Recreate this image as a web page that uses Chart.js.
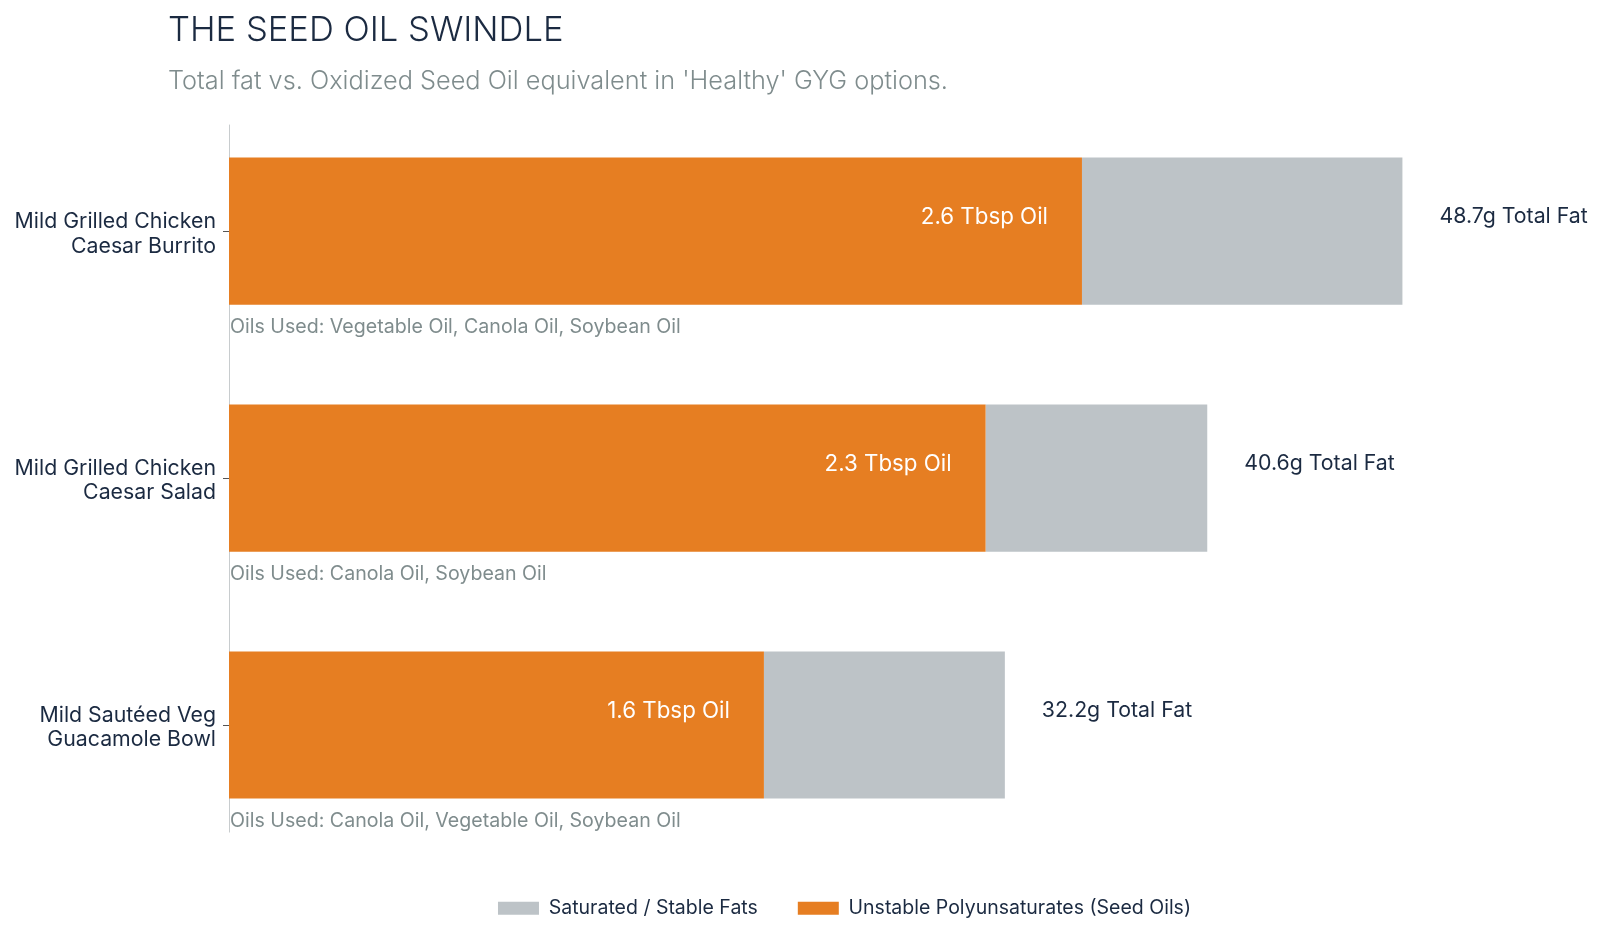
<!DOCTYPE html>
<html>
<head>
<meta charset="utf-8">
<script src="https://cdn.jsdelivr.net/npm/chart.js@4.4.0/dist/chart.umd.min.js"></script>
<style>
  html, body { margin: 0; padding: 0; background: #ffffff; }
  #wrap { position: relative; width: 1600px; height: 940px; }
  #wrap h1, #wrap p {
    position: absolute; left: 168px; margin: 0; line-height: 1; white-space: nowrap;
    font-family: Inter, "Noto Sans", sans-serif; font-weight: 300;
  }
  #wrap h1 { top: 11px; font-size: 34.6px; color: #1b2a41; }
  #wrap p { top: 67px; font-size: 25.3px; color: #7f8c8d; }
  #SeedOil { position: absolute; left: 0; top: 0; }
</style>
</head>
<body>
<div id="wrap">
  <canvas id="SeedOil"></canvas>
  <h1>THE SEED OIL SWINDLE</h1>
  <p>Total fat vs. Oxidized Seed Oil equivalent in 'Healthy' GYG options.</p>
</div>
<script>
// menu items, top to bottom
var categories = [
    ['Mild Grilled Chicken', 'Caesar Burrito'],
    ['Mild Grilled Chicken', 'Caesar Salad'],
    ['Mild Sautéed Veg', 'Guacamole Bowl']
];
var seedOilFat = [35.4, 31.4, 22.2];   // grams, orange part
var stableFat = [13.3, 9.2, 10.0];     // grams, grey part
var totalFat = [48.7, 40.6, 32.2];
var oilTbsp = [2.6, 2.3, 1.6];
var oilsUsed = [
    'Vegetable Oil, Canola Oil, Soybean Oil',
    'Canola Oil, Soybean Oil',
    'Canola Oil, Vegetable Oil, Soybean Oil'
];

var FONT = 'Inter, "Noto Sans", sans-serif';
var NAVY = '#1b2a41';
var SLATE = '#7f8c8d';
var ORANGE = '#e67e22';
var SILVER = '#bdc3c7';

// light axis line at the left of the bars
var axisLine = {
    id: 'axisLine',
    beforeDatasetsDraw: function (chart) {
        var ctx = chart.ctx, area = chart.chartArea;
        ctx.save();
        ctx.strokeStyle = '#c8ccce';
        ctx.lineWidth = 1;
        ctx.beginPath();
        ctx.moveTo(area.left + 0.5, area.top + 17);
        ctx.lineTo(area.left + 0.5, area.bottom - 16);
        ctx.stroke();
        ctx.restore();
    }
};

// text on and around every bar
var barNotes = {
    id: 'barNotes',
    afterDatasetsDraw: function (chart) {
        var ctx = chart.ctx;
        var oilMeta = chart.getDatasetMeta(0);
        var fatMeta = chart.getDatasetMeta(1);
        ctx.save();
        ctx.textBaseline = 'middle';
        oilMeta.data.forEach(function (bar, i) {
            var p = bar.getProps(['x', 'y', 'base', 'height'], true);
            var total = fatMeta.data[i].getProps(['x'], true);

            ctx.font = '400 22.3px ' + FONT;
            ctx.fillStyle = '#ffffff';
            ctx.textAlign = 'right';
            ctx.fillText(oilTbsp[i] + ' Tbsp Oil', p.x - 34, p.y - 14);

            ctx.font = '400 21.3px ' + FONT;
            ctx.fillStyle = NAVY;
            ctx.textAlign = 'left';
            ctx.fillText(totalFat[i] + 'g Total Fat', total.x + 37, p.y - 14);

            ctx.font = '400 19.6px ' + FONT;
            ctx.fillStyle = SLATE;
            ctx.fillText('Oils Used: ' + oilsUsed[i], p.base + 1, p.y + p.height / 2 + 22);
        });
        ctx.restore();
    }
};

new Chart(document.getElementById('SeedOil'), {
    type: 'bar',
    data: {
        labels: categories,
        datasets: [
            {
                label: 'Unstable Polyunsaturates (Seed Oils)',
                backgroundColor: ORANGE,
                data: seedOilFat,
                barPercentage: 0.596,
                categoryPercentage: 1
            },
            {
                label: 'Saturated / Stable Fats',
                backgroundColor: SILVER,
                data: stableFat,
                barPercentage: 0.596,
                categoryPercentage: 1
            }
        ]
    },
    options: {
        indexAxis: 'y',
        responsive: true,
        maintainAspectRatio: false,
        animation: false,
        layout: {
            // negative right padding pushes the legend centre to the right
            padding: { left: 0, right: -89, top: 107.6, bottom: 12 }
        },
        scales: {
            x: {
                stacked: true,
                min: 0,
                max: 56.9,
                ticks: { display: false },
                grid: { display: false },
                border: { display: false },
                afterFit: function (scale) { scale.height = 10; }
            },
            y: {
                stacked: true,
                grid: {
                    display: true,
                    drawOnChartArea: false,
                    drawTicks: true,
                    tickLength: 6,
                    offset: false,
                    color: '#555555'
                },
                border: { display: false },
                ticks: {
                    color: NAVY,
                    padding: 7,
                    labelOffset: 3,
                    font: { family: FONT, size: 21.3, lineHeight: 1.13 }
                },
                afterFit: function (scale) { scale.width = 229; }
            }
        },
        plugins: {
            legend: {
                display: true,
                position: 'bottom',
                labels: {
                    color: NAVY,
                    boxWidth: 41,
                    boxHeight: 13,
                    padding: 40,
                    font: { family: FONT, size: 19.5 },
                    sort: function (a, b) { return b.datasetIndex - a.datasetIndex; }
                }
            },
            tooltip: { enabled: false }
        }
    },
    plugins: [axisLine, barNotes]
});
</script>
</body>
</html>
